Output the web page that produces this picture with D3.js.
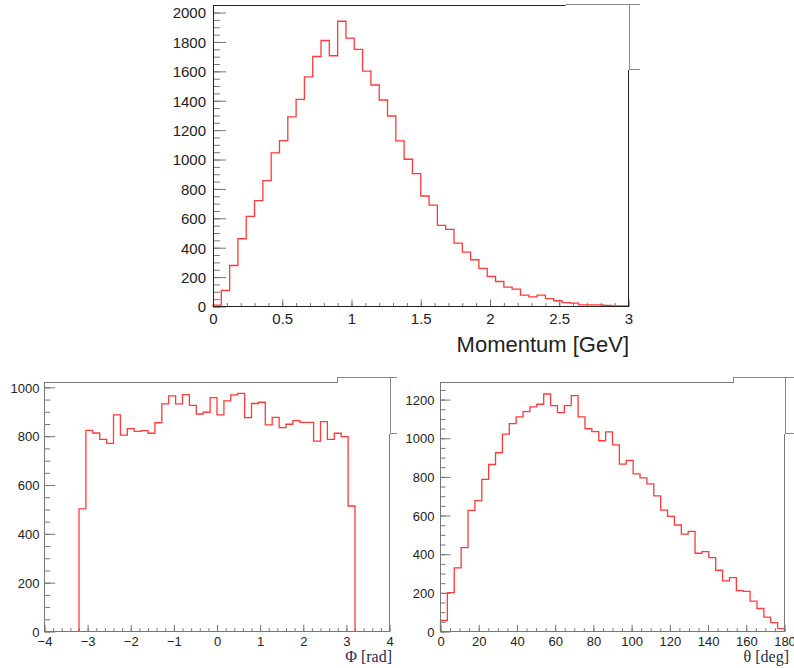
<!DOCTYPE html>
<html>
<head>
<meta charset="utf-8">
<script src="https://cdn.jsdelivr.net/npm/d3@7/dist/d3.min.js"></script>
<style>
  html, body { margin: 0; padding: 0; background: #fff; }
  svg { display: block; }
</style>
</head>
<body>
<svg id="chart" width="794" height="668"></svg>
<script>
// ---------------- DATA ----------------
// Momentum histogram: 50 bins over [0, 3] GeV
const momentumRange = [0, 3];
const momentumCounts = [10,109,279,461,613,720,856,1045,1129,1290,1409,1563,1701,1810,1706,1941,1826,1749,1602,1507,
  1405,1296,1127,1002,904,752,690,552,525,431,370,318,259,204,170,132,118,77,66,77,54,39,27,23,11,11,11,7,4,4];
const momentumXTicks = [0, 0.5, 1, 1.5, 2, 2.5, 3];
const momentumYTicks = [0, 200, 400, 600, 800, 1000, 1200, 1400, 1600, 1800, 2000];

// Phi histogram: 50 bins over [-4, 4] rad
const phiRange = [-4, 4];
const phiCounts = [0,0,0,0,0,
  502,824,813,787,771,887,804,831,820,823,812,855,932,965,932,970,926,891,898,958,
  887,945,969,975,876,934,939,846,877,835,849,864,857,857,780,860,787,812,798,514,
  0,0,0,0,0];
const phiXTicks = [-4, -3, -2, -1, 0, 1, 2, 3, 4];
const phiYTicks = [0, 200, 400, 600, 800, 1000];

// Theta histogram: 50 bins over [0, 180] deg
const thetaRange = [0, 180];
const thetaCounts = [57,201,329,434,627,677,787,864,925,1021,1076,1111,1138,1162,1176,1229,1169,1133,1169,1221,
  1111,1049,1034,987,1033,966,866,885,816,795,764,702,628,596,551,504,518,405,413,382,
  317,262,279,212,208,157,119,74,46,15];
const thetaXTicks = [0, 20, 40, 60, 80, 100, 120, 140, 160, 180];
const thetaYTicks = [0, 200, 400, 600, 800, 1000, 1200];

const titles = { momentum: "Momentum [GeV]", phi: "\u03A6 [rad]", theta: "\u03B8 [deg]" };

// ---------------- DRAWING ----------------
const svg = d3.select("#chart");
svg.append("rect").attr("width", 794).attr("height", 668).attr("fill", "#fff");

function drawPanel(cfg) {
  const g = svg.append("g");
  const x = d3.scaleLinear().domain(cfg.xRange).range([cfg.left, cfg.right]);
  const y = d3.scaleLinear().domain([0, cfg.yMax]).range([cfg.bottom, cfg.top]);
  const n = cfg.counts.length;
  const w = (cfg.xRange[1] - cfg.xRange[0]) / n;
  // skip empty bins at both ends (they lie on the axis, hidden under the frame)
  let first = 0, last = n - 1;
  while (first < n && cfg.counts[first] === 0) first++;
  while (last > first && cfg.counts[last] === 0) last--;
  const edge = i => cfg.xRange[0] + i * w;
  const pts = [[edge(first), 0]];
  for (let i = first; i <= last; i++) pts.push([edge(i), cfg.counts[i]]);
  pts.push([edge(last + 1), cfg.counts[last]]);
  pts.push([edge(last + 1), 0]);

  // histogram
  const line = d3.line().x(d => x(d[0])).y(d => y(d[1])).curve(d3.curveStepAfter);
  g.append("path").datum(pts).attr("d", line)
    .attr("fill", "none").attr("stroke", "#ff3a3a").attr("stroke-width", 1.3);

  const font = "'Liberation Sans', Arial, Helvetica, sans-serif";
  const fmt = d => d3.format("")(d);

  // minor ticks
  const xMinor = d3.axisBottom(x).tickValues(cfg.xMinor).tickFormat("").tickSizeInner(-cfg.xMinorLen).tickSizeOuter(0);
  const yMinor = d3.axisLeft(y).tickValues(cfg.yMinor).tickFormat("").tickSizeInner(-cfg.yMinorLen).tickSizeOuter(0);
  const gxm = g.append("g").attr("transform", `translate(0,${cfg.bottom})`).call(xMinor);
  const gym = g.append("g").attr("transform", `translate(${cfg.left},0)`).call(yMinor);
  [gxm, gym].forEach(s => { s.select(".domain").remove(); s.selectAll("line").attr("stroke", cfg.tickColor); });

  // major ticks + labels
  const xAxis = d3.axisBottom(x).tickValues(cfg.xTicks).tickFormat(fmt)
    .tickSizeInner(-cfg.xMajorLen).tickSizeOuter(0).tickPadding(0);
  const yAxis = d3.axisLeft(y).tickValues(cfg.yTicks).tickFormat(d3.format(""))
    .tickSizeInner(-cfg.yMajorLen).tickSizeOuter(0).tickPadding(cfg.yPad);
  const gx = g.append("g").attr("transform", `translate(0,${cfg.bottom})`).call(xAxis);
  const gy = g.append("g").attr("transform", `translate(${cfg.left},0)`).call(yAxis);
  [gx, gy].forEach(s => {
    s.select(".domain").remove();
    s.selectAll("line").attr("stroke", cfg.tickColor);
    s.selectAll("text").attr("font-family", font).attr("font-size", cfg.fontSize).attr("fill", "#222");
  });
  gx.selectAll("text").attr("dy", null).attr("y", cfg.xLabelBase);
  gy.selectAll("text").attr("dy", "0.36em");

  // frame lines
  const fl = (x1, y1, x2, y2, c) => g.append("line").attr("x1", x1).attr("y1", y1).attr("x2", x2).attr("y2", y2)
    .attr("stroke", c).attr("stroke-width", 1).attr("shape-rendering", "crispEdges");
  fl(cfg.left, cfg.bottom, cfg.right, cfg.bottom, cfg.frameColor);
  fl(cfg.left, cfg.top, cfg.left, cfg.bottom, cfg.frameColor);
  fl(cfg.left, cfg.top, cfg.statLeft, cfg.top, cfg.frameColor);
  fl(cfg.right, cfg.statBottom, cfg.right, cfg.bottom, cfg.frameColor);
  // partial stat box edges
  fl(cfg.statLeft, cfg.statTop, cfg.statLeft, cfg.top, cfg.boxColor);
  fl(cfg.statLeft, cfg.statTop, cfg.statRight, cfg.statTop, cfg.boxColor);
  fl(cfg.right + 1, cfg.statTop, cfg.right + 1, cfg.statBottom, cfg.boxColor);
  fl(cfg.right, cfg.statBottom, cfg.statRight, cfg.statBottom, cfg.boxColor);

  // title
  g.append("text").attr("x", cfg.titleX).attr("y", cfg.titleY).attr("text-anchor", "end")
    .attr("font-family", cfg.titleFont).attr("font-size", cfg.titleSize).attr("fill", cfg.titleColor)
    .text(cfg.title);
}

drawPanel({
  xRange: momentumRange, counts: momentumCounts, yMax: 2048,
  left: 213, right: 628.5, top: 5.5, bottom: 306.5,
  xTicks: momentumXTicks, yTicks: momentumYTicks,
  xMinor: d3.range(0, 3.001, 0.1), yMinor: d3.range(0, 2048, 50),
  xMajorLen: 7, xMinorLen: 3.5, yMajorLen: 13, yMinorLen: 7,
  yPad: 7, xLabelBase: 17, fontSize: 15,
  tickColor: "#777", frameColor: "#222", boxColor: "#888",
  statLeft: 565.5, statTop: 4.5, statRight: 640, statBottom: 69.5,
  title: titles.momentum, titleX: 629, titleY: 352, titleSize: 22,
  titleFont: "'Liberation Sans', Arial, sans-serif", titleColor: "#222"
});

drawPanel({
  xRange: phiRange, counts: phiCounts, yMax: 1022,
  left: 44.5, right: 389.5, top: 382, bottom: 631.5,
  xTicks: phiXTicks, yTicks: phiYTicks,
  xMinor: d3.range(-4, 4.001, 0.2), yMinor: d3.range(0, 1022, 50),
  xMajorLen: 6.7, xMinorLen: 3.3, yMajorLen: 10.7, yMinorLen: 5.7,
  yPad: 5, xLabelBase: 14.5, fontSize: 13,
  tickColor: "#777", frameColor: "#777", boxColor: "#888",
  statLeft: 337.5, statTop: 377, statRight: 397, statBottom: 433.5,
  title: titles.phi, titleX: 392, titleY: 662, titleSize: 16,
  titleFont: "'Liberation Serif', 'DejaVu Serif', serif", titleColor: "#1f2c4c"
});

drawPanel({
  xRange: thetaRange, counts: thetaCounts, yMax: 1291,
  left: 440.5, right: 784.5, top: 382, bottom: 631.5,
  xTicks: thetaXTicks, yTicks: thetaYTicks,
  xMinor: d3.range(0, 180.001, 5), yMinor: d3.range(0, 1291, 50),
  xMajorLen: 6.7, xMinorLen: 3.3, yMajorLen: 10, yMinorLen: 5,
  yPad: 6, xLabelBase: 14.5, fontSize: 13,
  tickColor: "#777", frameColor: "#777", boxColor: "#888",
  statLeft: 733.5, statTop: 377, statRight: 794, statBottom: 433.5,
  title: titles.theta, titleX: 789, titleY: 662, titleSize: 16,
  titleFont: "'Liberation Serif', 'DejaVu Serif', serif", titleColor: "#1f2c4c"
});
</script>
</body>
</html>
